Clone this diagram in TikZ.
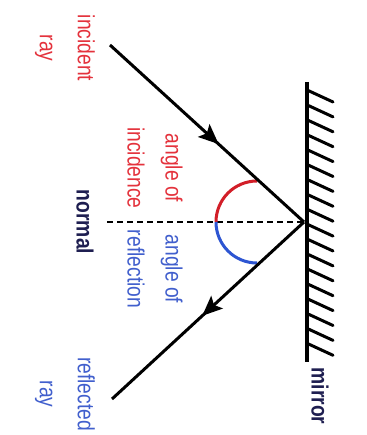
\documentclass[tikz,border=0pt]{standalone}
\usepackage{fontspec}
\setmainfont{Liberation Sans}
\usetikzlibrary{arrows.meta,decorations.markings}
\definecolor{redtxt}{RGB}{228,50,60}
\definecolor{bluetxt}{RGB}{65,95,205}
\definecolor{navy}{RGB}{30,30,80}
\definecolor{redarc}{RGB}{210,30,40}
\definecolor{bluearc}{RGB}{45,85,210}
\begin{document}
\begin{tikzpicture}[x=1pt,y=-1pt,
  lbl/.style={rotate=-90, xscale=0.82, align=center, inner sep=0pt,
    font=\fontsize{23.5}{38}\selectfont},
  raystyle/.style={line width=3pt, black},
  arrowmark/.style={postaction={decorate}, decoration={markings,
    mark=at position #1 with {\arrow{Stealth[length=20pt,width=17pt,inset=4pt]}}}},
  mirrorline/.style={line width=4.5pt, black},
  hatch/.style={line width=3pt, black, line cap=round},
  normalline/.style={line width=2.8pt, black, dash pattern=on 6pt off 4pt},
  arcline/.style={line width=3pt}]
\useasboundingbox[fill=white] (0,0) rectangle (366,435);
% key points
\coordinate (A) at (110,45);
\coordinate (V) at (304,222);
\coordinate (B) at (112,399);
\coordinate (N) at (107,222);
\coordinate (Mt) at (307,82);
\coordinate (Mb) at (307,362);
% mirror
\foreach \i in {0,...,17} \draw[hatch] (307,{90+14.9*\i}) -- ++(26,12);
\draw[mirrorline] (Mt) -- (Mb);
% normal
\draw[normalline] (N) -- (V);
% arcs
\draw[arcline, redarc] (257,181) arc[start angle=-90, end angle=-180, radius=41];
\draw[arcline, bluearc] (216,222) arc[start angle=180, end angle=90, radius=41];
% rays
\draw[raystyle, arrowmark=0.56] (A) -- (V);
\draw[raystyle, arrowmark=0.53] (V) -- (B);
% labels
\node[lbl, text=redtxt] (inc) at (65,48) {incident\\ray};
\node[lbl, text=redtxt] (aoi) at (155,168) {angle of\\incidence};
\node[lbl, text=navy, font=\fontsize{23.5}{38}\selectfont\bfseries] (nor) at (85,222) {normal};
\node[lbl, text=bluetxt] (aor) at (155,269) {angle of\\reflection};
\node[lbl, text=bluetxt] (ref) at (65,394) {reflected\\ray};
\node[lbl, text=navy, font=\fontsize{23.5}{38}\selectfont\bfseries] (mir) at (320,396) {mirror};
\end{tikzpicture}
\end{document}
